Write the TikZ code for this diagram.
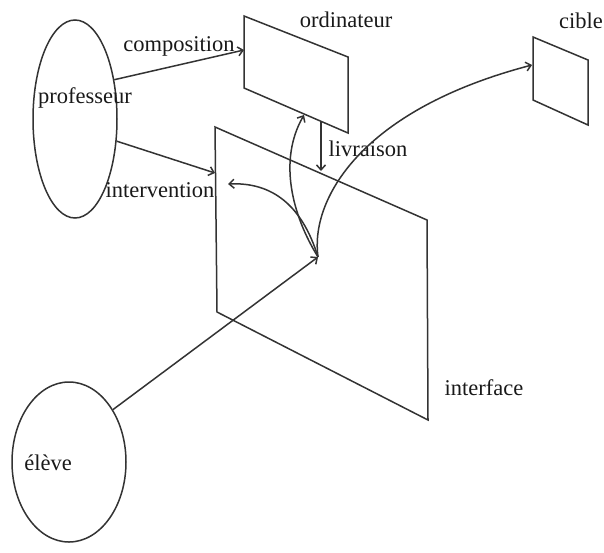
\documentclass[tikz,border=0pt]{standalone}
\usepackage{fontspec}
\setmainfont{Liberation Serif}
\usetikzlibrary{arrows.meta,shapes.geometric}
\begin{document}
\begin{tikzpicture}[x=1pt,y=-1pt,
  lbl/.style={font=\fontsize{22.5}{24}\selectfont,inner sep=0pt,text=black!90},
  actor/.style={ellipse,draw=black!80,line width=1.5pt,inner sep=0pt},
  flow/.style={draw=black!80,line width=1.5pt,-{Straight Barb[length=5pt,width=9pt]}},
  panel/.style={line width=1.5pt,draw=black!80,line join=miter}]
\useasboundingbox (0,0) rectangle (604,552);

% actors
\node[actor,minimum width=84pt,minimum height=198pt] (prof) at (75,119) {};
\node[actor,minimum width=114pt,minimum height=160pt] (eleve) at (69,462) {};

% panels (corners)
\coordinate (o1) at (244,16);  \coordinate (o2) at (348,57);
\coordinate (o3) at (348,133); \coordinate (o4) at (244,88);
\coordinate (c1) at (533,37);  \coordinate (c2) at (588,60);
\coordinate (c3) at (588,125); \coordinate (c4) at (533,100);
\coordinate (i1) at (215,127); \coordinate (i2) at (427,220);
\coordinate (i3) at (428,420); \coordinate (i4) at (217,312);
\draw[panel] (o1) -- (o2) -- (o3) -- (o4) -- cycle;
\draw[panel] (c1) -- (c2) -- (c3) -- (c4) -- cycle;
\draw[panel] (i1) -- (i2) -- (i3) -- (i4) -- cycle;

% attachment points
\coordinate (compin) at (244,50);
\coordinate (intin) at (215,173);
\coordinate (livout) at (321,122);
\coordinate (livin) at (321,171);
\coordinate (hub) at (318,257);
\coordinate (ordin) at (304,115);
\coordinate (intback) at (228,184);
\coordinate (cibin) at (532,65);

% labels
\node[lbl] (lprof) at (85,98) {professeur};
\node[lbl] (leleve) at (48,463) {élève};
\node[lbl] (lcomp) at (179,46) {composition};
\node[lbl] (lord) at (346,20) {ordinateur};
\node[lbl] (lcib) at (581,21) {cible};
\node[lbl] (lliv) at (368,149) {livraison};
\node[lbl] (lint) at (160,190) {intervention};
\node[lbl] (lifc) at (484,388) {interface};

% connectors
\draw[flow] (prof.45) -- (compin);
\draw[flow] (prof.-28) -- (intin);
\draw[flow] (livout) -- (livin);
\draw[flow] (eleve.50) -- (hub);
\draw[flow] (hub) .. controls (292,215) and (278,160) .. (ordin);
\draw[flow] (hub) .. controls (302,205) and (272,182) .. (intback);
\draw[flow] (hub) .. controls (310,200) and (360,110) .. (cibin);
\end{tikzpicture}
\end{document}
